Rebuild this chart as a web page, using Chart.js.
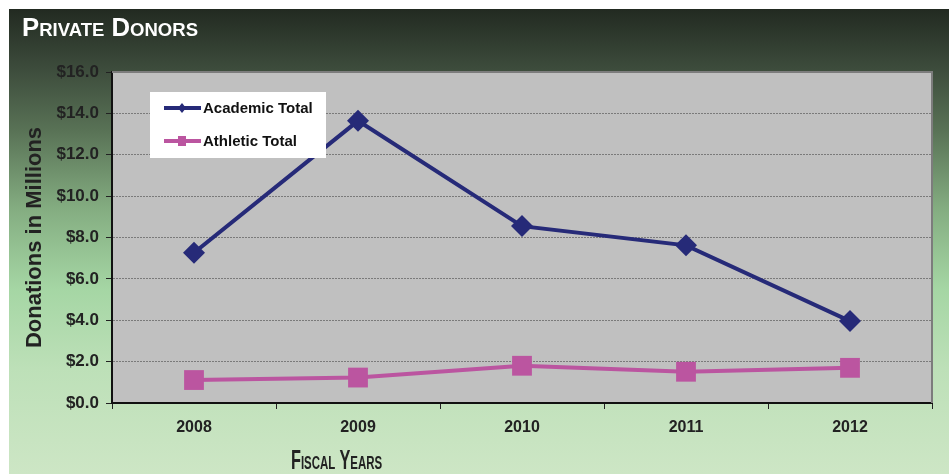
<!DOCTYPE html>
<html>
<head>
<meta charset="utf-8">
<script src="https://cdn.jsdelivr.net/npm/chart.js@4.4.1/dist/chart.umd.min.js"></script>
<style>
  body { margin: 0; background: #fff; }
  #wrap { position: relative; width: 949px; height: 474px; overflow: hidden; }
  #bg {
    position: absolute; left: 9px; top: 9px; right: 0; bottom: 0;
    background: linear-gradient(to bottom, #222a21 0px, #3d4c3c 60px, #587155 120px,
      #84ad81 200px, #a5d6a4 280px, #bde0b8 360px, #cde6c5 465px);
  }
  #donorsChart { position: absolute; left: 0; top: 0; }
  .heading {
    position: absolute; white-space: nowrap; font-family: 'Liberation Sans', Arial, sans-serif;
    font-weight: bold; font-variant: small-caps; line-height: 1; transform-origin: left top;
  }
  #title { left: 22px; top: 15px; font-size: 25px; color: #fff; }
  #xTitle { left: 291px; top: 447px; font-size: 27px; color: #222; }
</style>
</head>
<body>
<div id="wrap">
  <div id="bg"></div>
  <canvas id="donorsChart" width="949" height="474"></canvas>
  <div id="title" class="heading">Private Donors</div>
  <div id="xTitle" class="heading">Fiscal Years</div>
</div>
<script>
// fiscal years on the x axis
const years = ['2008', '2009', '2010', '2011', '2012'];

// donations, millions of dollars
const academicTotal = [7.26, 13.64, 8.55, 7.62, 3.96];
const athleticTotal = [1.11, 1.23, 1.80, 1.51, 1.70];

const academicColor = '#262a78';
const athleticColor = '#bb55a0';

// squeeze the html headings to the widths in the original
function fitWidth(id, target) {
    const el = document.getElementById(id);
    el.style.transform = 'scaleX(' + (target / el.offsetWidth) + ')';
}
fitWidth('title', 176);
fitWidth('xTitle', 91);

// gray plot area with darker outline on top and right
const plotArea = {
    id: 'plotArea',
    beforeDraw(chart) {
        const { ctx, chartArea: a } = chart;
        ctx.save();
        ctx.fillStyle = '#c0c0c0';
        ctx.fillRect(a.left, a.top, a.right - a.left, a.bottom - a.top);
        ctx.restore();
    },
    beforeDatasetsDraw(chart) {
        const { ctx, chartArea: a } = chart;
        ctx.save();
        ctx.strokeStyle = '#7c7c7c';
        ctx.lineWidth = 2;
        ctx.beginPath();
        ctx.moveTo(a.left, a.top);
        ctx.lineTo(a.right, a.top);
        ctx.lineTo(a.right, a.bottom);
        ctx.stroke();
        ctx.restore();
    }
};

// white legend box sitting inside the plot
const boxLegend = {
    id: 'boxLegend',
    afterDatasetsDraw(chart) {
        const { ctx, chartArea: a } = chart;
        const x = a.left + 38, y = a.top + 20;
        ctx.save();
        ctx.fillStyle = '#fff';
        ctx.fillRect(x, y, 176, 66);
        chart.data.datasets.forEach((ds, i) => {
            const ly = y + 16 + i * 33;
            ctx.strokeStyle = ds.borderColor;
            ctx.lineWidth = 4;
            ctx.beginPath();
            ctx.moveTo(x + 14, ly);
            ctx.lineTo(x + 51, ly);
            ctx.stroke();
            ctx.fillStyle = ds.borderColor;
            if (ds.pointStyle === 'rectRot') {
                ctx.beginPath();
                ctx.moveTo(x + 32, ly - 5);
                ctx.lineTo(x + 36, ly);
                ctx.lineTo(x + 32, ly + 5);
                ctx.lineTo(x + 28, ly);
                ctx.closePath();
                ctx.fill();
            } else {
                ctx.fillRect(x + 28, ly - 5, 8, 10);
            }
            ctx.fillStyle = '#111';
            ctx.font = 'bold 15px "Liberation Sans", Arial, sans-serif';
            ctx.textBaseline = 'middle';
            ctx.fillText(ds.label, x + 53, ly + 1);
        });
        ctx.restore();
    }
};

new Chart(document.getElementById('donorsChart'), {
    type: 'line',
    data: {
        labels: years,
        datasets: [{
            label: 'Academic Total',
            data: academicTotal,
            borderColor: academicColor,
            backgroundColor: academicColor,
            borderWidth: 4,
            pointStyle: 'rectRot',
            pointRadius: 11,
            pointBackgroundColor: academicColor,
            pointBorderWidth: 0,
            tension: 0
        }, {
            label: 'Athletic Total',
            data: athleticTotal,
            borderColor: athleticColor,
            backgroundColor: athleticColor,
            borderWidth: 4,
            pointStyle: 'rect',
            pointRadius: 14,
            pointBackgroundColor: athleticColor,
            pointBorderWidth: 0,
            tension: 0
        }]
    },
    options: {
        responsive: false,
        animation: false,
        layout: { padding: { top: 72, right: 17, left: 0, bottom: 0 } },
        plugins: {
            legend: { display: false },
            title: { display: false },
            tooltip: { enabled: false }
        },
        scales: {
            x: {
                offset: true,
                afterFit: (scale) => { scale.height = 71; },
                grid: {
                    offset: true,
                    drawOnChartArea: false,
                    tickLength: 6,
                    tickColor: '#222'
                },
                border: { color: '#111', width: 2 },
                ticks: {
                    color: '#222',
                    padding: 9,
                    font: { family: "'Liberation Sans', Arial, sans-serif", size: 16, weight: 'bold' }
                }
            },
            y: {
                min: 0,
                max: 16,
                afterFit: (scale) => { scale.width = 112; },
                grid: {
                    color: '#7a7a7a',
                    lineWidth: 1,
                    tickLength: 6,
                    tickColor: '#222',
                    tickBorderDash: []
                },
                border: { color: '#111', width: 2, dash: [2, 1] },
                ticks: {
                    stepSize: 2,
                    color: '#222',
                    padding: 7,
                    font: { family: "'Liberation Sans', Arial, sans-serif", size: 17, weight: 'bold' },
                    callback: (v) => '$' + v.toFixed(1)
                },
                title: {
                    display: true,
                    text: 'Donations in Millions',
                    color: '#222',
                    padding: { top: 22, bottom: 0 },
                    font: { family: "'Liberation Sans', Arial, sans-serif", size: 22, weight: 'bold' }
                }
            }
        }
    },
    plugins: [plotArea, boxLegend]
});
</script>
</body>
</html>
